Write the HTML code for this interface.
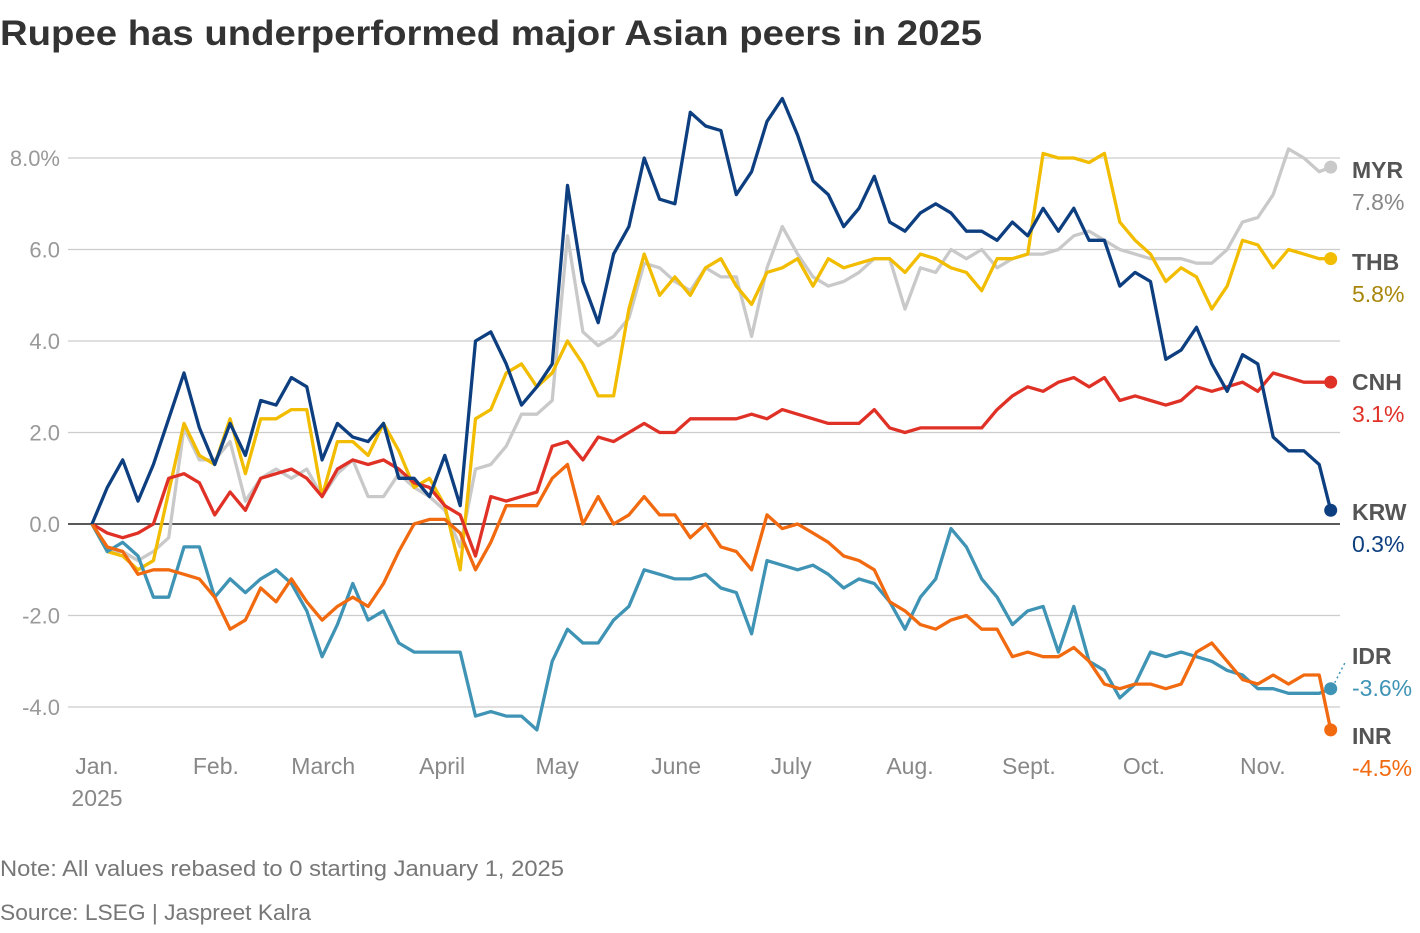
<!DOCTYPE html>
<html><head><meta charset="utf-8">
<style>
body{margin:0;background:#fff;font-family:"Liberation Sans",sans-serif;}
svg text{font-family:"Liberation Sans",sans-serif;}
</style></head>
<body>
<svg id="chart" width="1420" height="928" viewBox="0 0 1420 928">
<text x="0" y="45" font-size="35" font-weight="bold" fill="#333" textLength="982" lengthAdjust="spacingAndGlyphs">Rupee has underperformed major Asian peers in 2025</text>
<g id="grid"></g><g id="lines"></g><g id="labels"></g>
<text x="0" y="876" font-size="22" fill="#777" textLength="564" lengthAdjust="spacingAndGlyphs">Note: All values rebased to 0 starting January 1, 2025</text>
<text x="0" y="920" font-size="22" fill="#777" textLength="311" lengthAdjust="spacingAndGlyphs">Source: LSEG | Jaspreet Kalra</text>
</svg>
<script>
const days=[0,4,8,12,16,20,24,28,32,36,40,44,48,52,56,60,64,68,72,76,80,84,88,92,96,100,104,108,112,116,120,124,128,132,136,140,144,148,152,156,160,164,168,172,176,180,184,188,192,196,200,204,208,212,216,220,224,228,232,236,240,244,248,252,256,260,264,268,272,276,280,284,288,292,296,300,304,308,312,316,320,323];
const krw=[0,0.8,1.4,0.5,1.3,2.3,3.3,2.1,1.3,2.2,1.5,2.7,2.6,3.2,3.0,1.4,2.2,1.9,1.8,2.2,1.0,1.0,0.6,1.5,0.4,4.0,4.2,3.5,2.6,3.0,3.5,7.4,5.3,4.4,5.9,6.5,8.0,7.1,7.0,9.0,8.7,8.6,7.2,7.7,8.8,9.3,8.5,7.5,7.2,6.5,6.9,7.6,6.6,6.4,6.8,7.0,6.8,6.4,6.4,6.2,6.6,6.3,6.9,6.4,6.9,6.2,6.2,5.2,5.5,5.3,3.6,3.8,4.3,3.5,2.9,3.7,3.5,1.9,1.6,1.6,1.3,0.3];
const thb=[0,-0.6,-0.7,-1.0,-0.8,0.7,2.2,1.5,1.3,2.3,1.1,2.3,2.3,2.5,2.5,0.6,1.8,1.8,1.5,2.2,1.6,0.8,1.0,0.4,-1.0,2.3,2.5,3.3,3.5,3.0,3.3,4.0,3.5,2.8,2.8,4.7,5.9,5.0,5.4,5.0,5.6,5.8,5.2,4.8,5.5,5.6,5.8,5.2,5.8,5.6,5.7,5.8,5.8,5.5,5.9,5.8,5.6,5.5,5.1,5.8,5.8,5.9,8.1,8.0,8.0,7.9,8.1,6.6,6.2,5.9,5.3,5.6,5.4,4.7,5.2,6.2,6.1,5.6,6.0,5.9,5.8,5.8];
const myr=[0,-0.6,-0.6,-0.8,-0.6,-0.3,2.1,1.4,1.4,1.8,0.5,1.0,1.2,1.0,1.2,0.6,1.1,1.4,0.6,0.6,1.1,0.8,0.6,0.3,-0.5,1.2,1.3,1.7,2.4,2.4,2.7,6.3,4.2,3.9,4.1,4.5,5.7,5.6,5.3,5.1,5.6,5.4,5.4,4.1,5.6,6.5,5.9,5.4,5.2,5.3,5.5,5.8,5.8,4.7,5.6,5.5,6.0,5.8,6.0,5.6,5.8,5.9,5.9,6.0,6.3,6.4,6.2,6.0,5.9,5.8,5.8,5.8,5.7,5.7,6.0,6.6,6.7,7.2,8.2,8.0,7.7,7.8];
const cnh=[0,-0.2,-0.3,-0.2,0.0,1.0,1.1,0.9,0.2,0.7,0.3,1.0,1.1,1.2,1.0,0.6,1.2,1.4,1.3,1.4,1.2,0.9,0.8,0.4,0.2,-0.7,0.6,0.5,0.6,0.7,1.7,1.8,1.4,1.9,1.8,2.0,2.2,2.0,2.0,2.3,2.3,2.3,2.3,2.4,2.3,2.5,2.4,2.3,2.2,2.2,2.2,2.5,2.1,2.0,2.1,2.1,2.1,2.1,2.1,2.5,2.8,3.0,2.9,3.1,3.2,3.0,3.2,2.7,2.8,2.7,2.6,2.7,3.0,2.9,3.0,3.1,2.9,3.3,3.2,3.1,3.1,3.1];
const inr=[0,-0.5,-0.6,-1.1,-1.0,-1.0,-1.1,-1.2,-1.6,-2.3,-2.1,-1.4,-1.7,-1.2,-1.7,-2.1,-1.8,-1.6,-1.8,-1.3,-0.6,0.0,0.1,0.1,-0.2,-1.0,-0.4,0.4,0.4,0.4,1.0,1.3,0.0,0.6,0.0,0.2,0.6,0.2,0.2,-0.3,0.0,-0.5,-0.6,-1.0,0.2,-0.1,0.0,-0.2,-0.4,-0.7,-0.8,-1.0,-1.7,-1.9,-2.2,-2.3,-2.1,-2.0,-2.3,-2.3,-2.9,-2.8,-2.9,-2.9,-2.7,-3.0,-3.5,-3.6,-3.5,-3.5,-3.6,-3.5,-2.8,-2.6,-3.0,-3.4,-3.5,-3.3,-3.5,-3.3,-3.3,-4.5];
const idr=[0,-0.6,-0.4,-0.7,-1.6,-1.6,-0.5,-0.5,-1.6,-1.2,-1.5,-1.2,-1.0,-1.3,-1.9,-2.9,-2.2,-1.3,-2.1,-1.9,-2.6,-2.8,-2.8,-2.8,-2.8,-4.2,-4.1,-4.2,-4.2,-4.5,-3.0,-2.3,-2.6,-2.6,-2.1,-1.8,-1.0,-1.1,-1.2,-1.2,-1.1,-1.4,-1.5,-2.4,-0.8,-0.9,-1.0,-0.9,-1.1,-1.4,-1.2,-1.3,-1.7,-2.3,-1.6,-1.2,-0.1,-0.5,-1.2,-1.6,-2.2,-1.9,-1.8,-2.8,-1.8,-3.0,-3.2,-3.8,-3.5,-2.8,-2.9,-2.8,-2.9,-3.0,-3.2,-3.3,-3.6,-3.6,-3.7,-3.7,-3.7,-3.6];
const yTicks=[8,6,4,2,0,-2,-4];
const yTickLabels=["8.0%","6.0","4.0","2.0","0.0","-2.0","-4.0"];
const monthDays=[0,31,59,90,120,151,181,212,243,273,304];
const monthLabels=["Jan.","Feb.","March","April","May","June","July","Aug.","Sept.","Oct.","Nov."];

const NS="http://www.w3.org/2000/svg";
const xs=d=>92+d*3.835;
const ys=v=>524-v*45.75;
function mk(tag,attrs,parent,text){const e=document.createElementNS(NS,tag);for(const k in attrs)e.setAttribute(k,attrs[k]);if(text!==undefined)e.textContent=text;parent.appendChild(e);return e;}
const grid=document.getElementById('grid'),lines=document.getElementById('lines'),labels=document.getElementById('labels');
yTicks.forEach((t,i)=>{
  const l=mk('line',{x1:68,x2:1340,y1:ys(t),y2:ys(t),stroke:t===0?'#222':'#ccc','stroke-width':t===0?1.5:1.2},grid);
  
  
  const tx=mk('text',{x:60,y:ys(t)+8,'font-size':22,fill:'#999','text-anchor':'end'},grid,yTickLabels[i]);
  
  
});
monthDays.forEach((d,i)=>{
  const tx=mk('text',{x:xs(d)+5,y:774,'font-size':23,fill:'#888','text-anchor':'middle'},grid,monthLabels[i]);
  
  
});
const yr=mk('text',{x:97,y:806,'font-size':23,fill:'#888','text-anchor':'middle'},grid,'2025');



const series=[
 {n:'MYR',v:myr,c:'#c9c9c9',lc:'#888',ly:170},
 {n:'THB',v:thb,c:'#f2bd00',lc:'#a8860a',ly:262},
 {n:'CNH',v:cnh,c:'#e03127',lc:'#e03127',ly:382},
 {n:'IDR',v:idr,c:'#3f93b5',lc:'#3f93b5',ly:656},
 {n:'INR',v:inr,c:'#f26a10',lc:'#f26a10',ly:736},
 {n:'KRW',v:krw,c:'#0d3f80',lc:'#0d3f80',ly:512}
];
series.forEach(s=>{
  const d=s.v.map((v,i)=>(i?'L':'M')+xs(days[i]).toFixed(1)+','+ys(v).toFixed(1)).join('');
  const p=mk('path',{d:d,fill:'none',stroke:s.c,'stroke-width':3.3,'stroke-linejoin':'round'},lines);
  
  
  const last=s.v[s.v.length-1];
  const ex=xs(days[days.length-1]),ey=ys(last);
  const dot=mk('circle',{cx:ex,cy:ey,r:6.5,fill:s.c},lines);
  
  
  if(s.n==='IDR'){
    const dl=mk('line',{x1:ex+4,y1:ey-6,x2:1346,y2:ey-28,stroke:s.c,'stroke-width':1.5,'stroke-dasharray':'2,3'},lines);
    
    
  }
  const nt=mk('text',{x:1352,y:s.ly+8,'font-size':23,'font-weight':'bold',fill:'#555'},labels,s.n);
  
  
  const vt=mk('text',{x:1352,y:s.ly+40,'font-size':23,fill:s.lc},labels,last.toFixed(1)+'%');
  
  
});
</script>
</body></html>
